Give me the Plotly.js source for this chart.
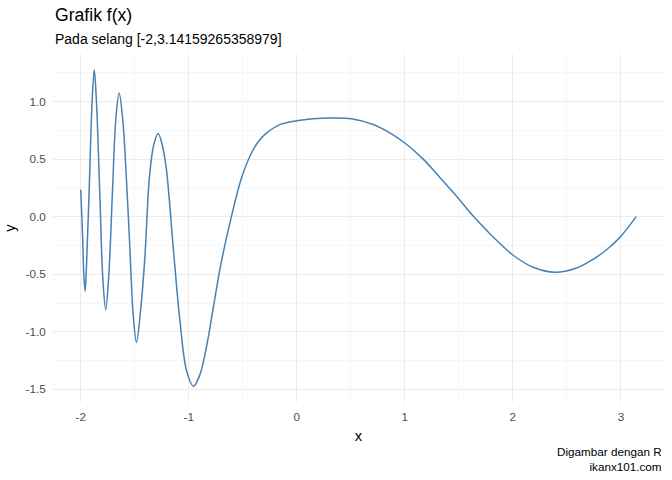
<!DOCTYPE html>
<html>
<head>
<meta charset="utf-8">
<script src="https://cdn.plot.ly/plotly-3.0.1.min.js"></script>
<style>html,body{margin:0;padding:0;background:#fff;}#chart{width:672px;height:480px;}</style>
</head>
<body>
<div id="chart"></div>
<script>
// Values
const xVals = [-2.000, -1.984, -1.972, -1.960, -1.948, -1.923, -1.895, -1.875, -1.855, -1.824,
  -1.795, -1.769, -1.740, -1.707, -1.675, -1.645, -1.612, -1.577, -1.546, -1.515,
  -1.484, -1.450, -1.407, -1.364, -1.325, -1.284, -1.245, -1.207, -1.145, -1.083,
  -1.020, -0.957, -0.900, -0.836, -0.775, -0.700, -0.605, -0.512, -0.420, -0.350,
  -0.281, -0.157, 0.000, 0.150, 0.306, 0.506, 0.707, 0.861, 1.000, 1.170,
  1.324, 1.494, 1.633, 1.787, 1.849, 2.003, 2.188, 2.389, 2.590, 2.744,
  2.870, 2.991, 3.1416];
const yVals = [0.234, -0.142, -0.500, -0.648, -0.450, 0.206, 1.000, 1.276, 1.000, 0.206,
  -0.550, -0.807, -0.500, 0.206, 0.850, 1.074, 0.850, 0.321, -0.258, -0.850,
  -1.091, -0.850, -0.360, 0.350, 0.620, 0.722, 0.620, 0.408, -0.258, -0.894,
  -1.340, -1.473, -1.380, -1.130, -0.800, -0.400, 0.003, 0.336, 0.553, 0.660,
  0.726, 0.799, 0.833, 0.850, 0.857, 0.851, 0.800, 0.728, 0.640, 0.500,
  0.340, 0.160, 0.005, -0.148, -0.205, -0.335, -0.440, -0.483, -0.446, -0.370,
  -0.285, -0.180, 0.000];
const xTicks = [-2, -1, 0, 1, 2, 3];
const xTickLabels = ['-2', '-1', '0', '1', '2', '3'];
const yTicks = [-1.5, -1.0, -0.5, 0.0, 0.5, 1.0];
const yTickLabels = ['-1.5', '-1.0', '-0.5', '0.0', '0.5', '1.0'];
const titleText = 'Grafik f(x)';
const subtitleText = 'Pada selang [-2,3.14159265358979]';
const captionText = 'Digambar dengan R<br>ikanx101.com';

const font = 'Liberation Sans, Arial, sans-serif';
const trace = {
  x: xVals, y: yVals, type: 'scatter', mode: 'lines',
  line: {color: '#4682B4', width: 1.5, shape: 'spline', smoothing: 1},
  hoverinfo: 'none'
};
const axisCommon = {
  showline: false, zeroline: false,
  gridcolor: '#EBEBEB', gridwidth: 1.1,
  ticks: 'outside', ticklen: 4, tickcolor: 'rgba(0,0,0,0)',
  tickfont: {family: font, size: 11.7, color: '#4D4D4D'}
};
const layout = {
  width: 672, height: 480,
  margin: {l: 53, r: 8, t: 54, b: 77.5},
  paper_bgcolor: '#ffffff', plot_bgcolor: '#ffffff',
  showlegend: false,
  xaxis: Object.assign({}, axisCommon, {
    range: [-2.257, 3.399], tickvals: xTicks, ticktext: xTickLabels,
    minor: {tickvals: [-1.5, -0.5, 0.5, 1.5, 2.5], showgrid: true, gridcolor: '#F2F2F2', gridwidth: 0.6, ticks: ''},
    title: {text: 'x', font: {family: font, size: 14.7, color: '#000'}, standoff: 8}
  }),
  yaxis: Object.assign({}, axisCommon, {
    range: [-1.61, 1.413], tickvals: yTicks, ticktext: yTickLabels,
    minor: {tickvals: [-1.25, -0.75, -0.25, 0.25, 0.75, 1.25], showgrid: true, gridcolor: '#F2F2F2', gridwidth: 0.6, ticks: ''},
    title: {text: 'y', font: {family: font, size: 14.7, color: '#000'}, standoff: 6}
  }),
  annotations: [
    {text: titleText, xref: 'paper', yref: 'paper', x: 0.0, y: 1.112, xanchor: 'left', yanchor: 'middle',
     showarrow: false, font: {family: font, size: 17.6, color: '#000'}},
    {text: subtitleText, xref: 'paper', yref: 'paper', x: 0.0, y: 1.043, xanchor: 'left', yanchor: 'middle',
     showarrow: false, font: {family: font, size: 14, color: '#000'}},
    {text: captionText, xref: 'paper', yref: 'paper', x: 1.0, y: -0.1636, xanchor: 'right', yanchor: 'middle',
     align: 'right', showarrow: false, font: {family: font, size: 11.7, color: '#000'}}
  ]
};
Plotly.newPlot('chart', [trace], layout, {staticPlot: true, displayModeBar: false});
</script>
</body>
</html>
